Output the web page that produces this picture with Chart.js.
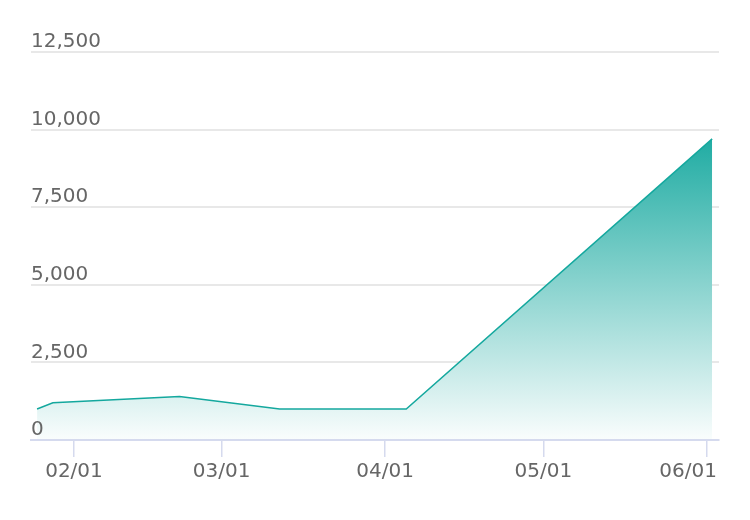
<!DOCTYPE html>
<html>
<head>
<meta charset="utf-8">
<script src="https://cdn.jsdelivr.net/npm/chart.js@4.4.1/dist/chart.umd.min.js"></script>
<style>
  html, body { margin: 0; padding: 0; background: #fff; }
  #wrap { width: 750px; height: 520px; }
</style>
</head>
<body>
<div id="wrap"><canvas id="chart" width="750" height="520"></canvas></div>
<script>
const dates = ["2023-01-25", "2023-01-28", "2023-02-21", "2023-03-12", "2023-04-05", "2023-06-02"];
const values = [1000, 1200, 1400, 1000, 1000, 9700];
const tickDates = ["2023-02-01", "2023-03-01", "2023-04-01", "2023-05-01", "2023-06-01"];
const tickLabels = ["02/01", "03/01", "04/01", "05/01", "06/01"];
const yTicks = [0, 2500, 5000, 7500, 10000, 12500];

// day number since Jan 1st, so a linear axis can stand in for a time axis
const dayOf = (s) => (Date.parse(s + "T00:00:00Z") - Date.parse("2023-01-01T00:00:00Z")) / 86400000;

const teal = "rgb(20, 168, 158)";
const labelFont = { family: "'DejaVu Sans', Verdana, sans-serif", size: 20 };

// keep the last x label inside the axis (right aligned to its end)
const clampLastLabel = {
  id: "clampLastLabel",
  beforeDraw(chart) {
    const s = chart.scales.x;
    const items = s.getLabelItems(chart.chartArea);
    const last = items[items.length - 1];
    if (last) {
      last.options.textAlign = "right";
      last.options.translation = [s.right - 2, last.options.translation[1]];
    }
  },
};

const ctx = document.getElementById("chart").getContext("2d");
const chart = new Chart(ctx, {
  type: "line",
  data: {
    datasets: [
      {
        data: dates.map((d, i) => ({ x: dayOf(d), y: values[i] })),
        borderColor: teal,
        borderWidth: 1.5,
        pointRadius: 0,
        tension: 0,
        fill: "origin",
        backgroundColor: (c) => {
          const { chartArea, scales } = c.chart;
          if (!chartArea) return "transparent";
          const top = scales.y.getPixelForValue(Math.max(...values));
          const g = c.chart.ctx.createLinearGradient(0, top, 0, chartArea.bottom);
          g.addColorStop(0, "rgb(32, 172, 163)");
          g.addColorStop(1, "rgb(250, 253, 253)");
          return g;
        },
      },
    ],
  },
  options: {
    responsive: false,
    animation: false,
    layout: { padding: { left: 31, right: 31, top: 52, bottom: 33 } },
    plugins: { legend: { display: false }, tooltip: { enabled: false } },
    scales: {
      x: {
        type: "linear",
        min: dayOf("2023-01-23") + 0.85,
        max: dayOf("2023-06-03") + 0.3,
        afterBuildTicks: (axis) => {
          axis.ticks = tickDates.map((d) => ({ value: dayOf(d) }));
        },
        grid: {
          drawOnChartArea: false,
          drawTicks: true,
          tickLength: 17,
          color: "#d5daee",
          lineWidth: 1.5,
        },
        border: { display: true, color: "#d5daee", width: 2, z: 1 },
        ticks: {
          padding: 3,
          maxRotation: 0,
          autoSkip: false,
          color: "#666",
          font: labelFont,
          callback: (v) => {
            const i = tickDates.findIndex((d) => dayOf(d) === v);
            return i >= 0 ? tickLabels[i] : "";
          },
        },
      },
      y: {
        min: 0,
        max: 12500,
        afterBuildTicks: (axis) => {
          axis.ticks = yTicks.map((v) => ({ value: v }));
        },
        grid: {
          drawTicks: false,
          lineWidth: 2,
          color: (c) => (c.tick && c.tick.value === 0 ? "rgba(0,0,0,0)" : "#e8e8e8"),
        },
        border: { display: false },
        ticks: {
          mirror: true,
          padding: 0,
          labelOffset: -10,
          z: 1,
          color: "#666",
          font: labelFont,
          callback: (v) => v.toLocaleString("en-US"),
        },
      },
    },
  },
  plugins: [clampLastLabel],
});
</script>
</body>
</html>
